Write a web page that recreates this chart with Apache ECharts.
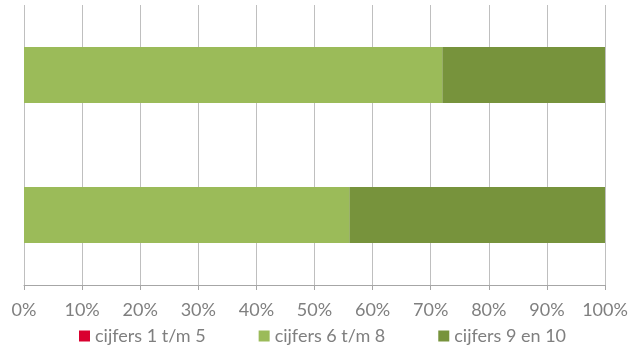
<!DOCTYPE html>
<html>
<head>
<meta charset="utf-8">
<script src="https://cdn.jsdelivr.net/npm/echarts@6/dist/echarts.min.js"></script>
<style>
  html, body { margin: 0; padding: 0; background: #fff; }
  #chart { width: 638px; height: 349px; }
</style>
</head>
<body>
<div id="chart"></div>
<script>
// categories listed bottom to top (category axis starts at the bottom)
const categories = ['groep 2', 'groep 1'];
const seriesNames = ['cijfers 1 t/m 5', 'cijfers 6 t/m 8', 'cijfers 9 en 10'];
const lowGrades = [0, 0];
const midGrades = [56, 72];
const highGrades = [44, 28];
const colors = ['#d9002f', '#9bbb59', '#77933c'];

const chart = echarts.init(document.getElementById('chart'));

const textColor = '#7f7f7f';
const fontFamily = 'Lato, "Open Sans", sans-serif';

const option = {
    animation: false,
    grid: {
        left: 24,
        right: 33,
        top: 5,
        bottom: 64,
    },
    legend: {
        top: 327,
        left: 79,
        itemWidth: 11,
        itemHeight: 11,
        itemGap: 53,
        padding: 0,
        icon: 'rect',
        textStyle: {
            color: textColor,
            fontSize: 18,
            fontFamily: fontFamily,
            padding: [0, 0, 0, 0],
        },
        data: seriesNames,
    },
    xAxis: {
        type: 'value',
        min: 0,
        max: 100,
        interval: 10,
        axisLabel: {
            formatter: (v) => v + '%',
            color: textColor,
            fontSize: 18,
            fontFamily: fontFamily,
            margin: 16,
        },
        axisLine: { show: true, lineStyle: { color: '#a6a6a6', width: 1 } },
        axisTick: { show: true, length: 5, lineStyle: { color: '#a6a6a6' } },
        splitLine: { show: true, lineStyle: { color: '#bfbfbf', width: 1 } },
    },
    yAxis: {
        type: 'category',
        data: categories,
        axisLabel: { show: false },
        axisTick: { show: false },
        axisLine: { show: false },
    },
    series: [
        {
            name: seriesNames[0],
            type: 'bar',
            stack: 'total',
            barCategoryGap: '60%',
            itemStyle: { color: colors[0] },
            data: lowGrades,
        },
        {
            name: seriesNames[1],
            type: 'bar',
            stack: 'total',
            barCategoryGap: '60%',
            itemStyle: { color: colors[1] },
            data: midGrades,
        },
        {
            name: seriesNames[2],
            type: 'bar',
            stack: 'total',
            barCategoryGap: '60%',
            itemStyle: { color: colors[2] },
            data: highGrades,
        },
    ],
};

chart.setOption(option);
</script>
</body>
</html>
